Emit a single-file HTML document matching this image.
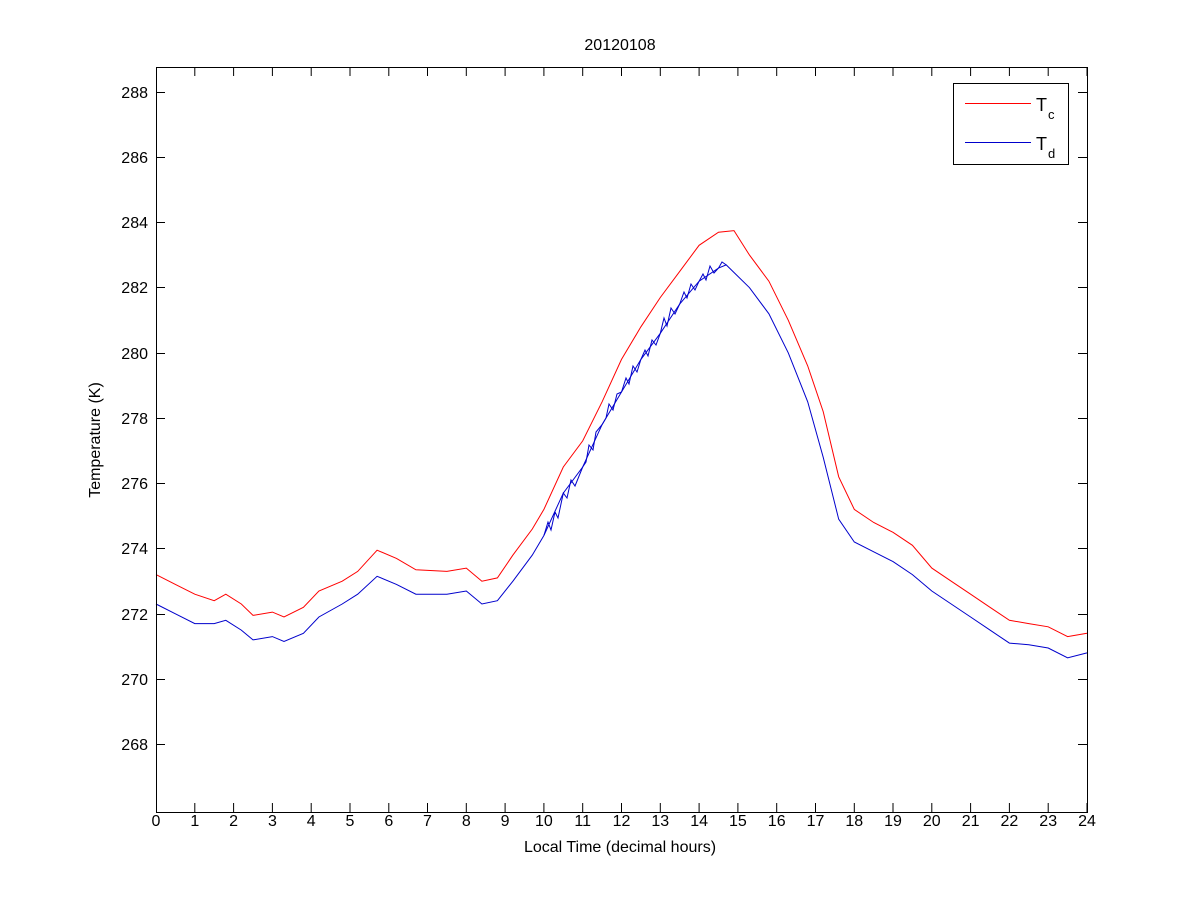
<!DOCTYPE html>
<html><head><meta charset="utf-8"><style>
body{margin:0;background:#fff;}
svg{display:block;font-family:"Liberation Sans",Arial,sans-serif;}
</style></head><body>
<svg width="1201" height="900" xmlns="http://www.w3.org/2000/svg">
<rect width="1201" height="900" fill="#fff"/>
<text x="620" y="50" font-size="16" text-anchor="middle">20120108</text>
<path fill="none" stroke="#000" stroke-width="1" d="
M156.5 812v-9M194.8 812v-9M233.6 812v-9M272.4 812v-9M311.2 812v-9M350 812v-9M388.8 812v-9M427.5 812v-9M466.3 812v-9M505.1 812v-9M543.9 812v-9M582.7 812v-9M621.5 812v-9M660.3 812v-9M699.1 812v-9M737.9 812v-9M776.7 812v-9M815.5 812v-9M854.3 812v-9M893 812v-9M931.8 812v-9M970.6 812v-9M1009.4 812v-9M1048.2 812v-9M1087 812v-9
M156.5 67v9M194.8 67v9M233.6 67v9M272.4 67v9M311.2 67v9M350 67v9M388.8 67v9M427.5 67v9M466.3 67v9M505.1 67v9M543.9 67v9M582.7 67v9M621.5 67v9M660.3 67v9M699.1 67v9M737.9 67v9M776.7 67v9M815.5 67v9M854.3 67v9M893 67v9M931.8 67v9M970.6 67v9M1009.4 67v9M1048.2 67v9M1087 67v9
M156 744.5h9M156 679.5h9M156 614.5h9M156 548.5h9M156 483.5h9M156 418.5h9M156 353.5h9M156 287.5h9M156 222.5h9M156 157.5h9M156 92.5h9
M1087 744.5h-9M1087 679.5h-9M1087 614.5h-9M1087 548.5h-9M1087 483.5h-9M1087 418.5h-9M1087 353.5h-9M1087 287.5h-9M1087 222.5h-9M1087 157.5h-9M1087 92.5h-9"/>
<g font-size="16" text-anchor="middle">
<text x="156" y="826">0</text><text x="194.8" y="826">1</text><text x="233.6" y="826">2</text><text x="272.4" y="826">3</text><text x="311.2" y="826">4</text><text x="350" y="826">5</text><text x="388.8" y="826">6</text><text x="427.5" y="826">7</text><text x="466.3" y="826">8</text><text x="505.1" y="826">9</text><text x="543.9" y="826">10</text><text x="582.7" y="826">11</text><text x="621.5" y="826">12</text><text x="660.3" y="826">13</text><text x="699.1" y="826">14</text><text x="737.9" y="826">15</text><text x="776.7" y="826">16</text><text x="815.5" y="826">17</text><text x="854.3" y="826">18</text><text x="893" y="826">19</text><text x="931.8" y="826">20</text><text x="970.6" y="826">21</text><text x="1009.4" y="826">22</text><text x="1048.2" y="826">23</text><text x="1087" y="826">24</text>
</g>
<g font-size="16" text-anchor="end">
<text x="148" y="750">268</text><text x="148" y="685">270</text><text x="148" y="620">272</text><text x="148" y="554">274</text><text x="148" y="489">276</text><text x="148" y="424">278</text><text x="148" y="359">280</text><text x="148" y="293">282</text><text x="148" y="228">284</text><text x="148" y="163">286</text><text x="148" y="98">288</text>
</g>
<polyline fill="none" stroke="#ff0000" stroke-width="1" points="156,574.6 175.4,584.4 194.8,594.2 214.2,600.7 225.8,594.2 241.3,604 253,615.4 272.4,612.1 284,617 303.4,607.3 318.9,591 342.2,581.2 357.7,571.4 377.1,550.2 396.5,558.4 415.9,569.8 446.9,571.4 466.3,568.1 481.9,581.2 497.4,577.9 512.9,555.1 532.3,529 543.9,509.4 563.3,467 582.7,440.9 602.1,401.8 621.5,359.4 640.9,326.8 660.3,297.5 679.7,271.4 699.1,245.3 718.5,232.2 734,230.6 749.5,255.1 768.9,281.2 788.3,320.3 807.7,365.9 823.2,411.6 838.7,476.8 854.3,509.4 873.7,522.5 893,532.3 912.4,545.3 931.8,568.1 951.2,581.2 970.6,594.2 990,607.3 1009.4,620.3 1028.8,623.6 1048.2,626.8 1067.6,636.6 1087,633.3"/>
<polyline fill="none" stroke="#0000cc" stroke-width="1" points="156,604 175.4,613.8 194.8,623.6 214.2,623.6 225.8,620.3 241.3,630.1 253,639.9 272.4,636.6 284,641.5 303.4,633.3 318.9,617 342.2,604 357.7,594.2 377.1,576.3 396.5,584.4 415.9,594.2 446.9,594.2 466.3,591 481.9,604 497.4,600.7 512.9,581.2 532.3,555.1 543.9,535.5 563.3,493.1 582.7,467 602.1,424.6 621.5,392 640.9,359.4 660.3,333.3 679.7,304 699.1,281.2 718.5,268.1 726.2,264.9 749.5,287.7 768.9,313.8 788.3,352.9 807.7,401.8 823.2,457.2 838.7,519.2 854.3,542 873.7,551.8 893,561.6 912.4,574.6 931.8,591 951.2,604 970.6,617 990,630.1 1009.4,643.1 1028.8,644.8 1048.2,648 1067.6,657.8 1087,652.9"/>
<polyline fill="none" stroke="#0000cc" stroke-width="1" points="543.9,535.5 548,522 551,530 555,512 558,518 563.3,493.1 567,498 571,480 575,486 582.7,467 586,462 589,445 593,450 596,432 602.1,424.6 606,418 609,404 613,410 617,394 621.5,392 626,378 629,384 633,366 637,372 640.9,359.4 645,350 648,356 652,340 656,345 660.3,333.3 664,318 667,326 671,308 675,314 679.7,304 684,292 687,298 691,284 695,290 699.1,281.2 703,274 706,280 710,266 714,273 718.5,268.1 722,262 726.2,264.9"/>
<rect x="156.5" y="67.5" width="931" height="745" fill="none" stroke="#000" stroke-width="1"/>
<rect x="953.5" y="83.5" width="115" height="81" fill="#fff" stroke="#000" stroke-width="1"/>
<line x1="965" y1="103.5" x2="1031" y2="103.5" stroke="#ff0000"/>
<line x1="965" y1="142.5" x2="1031" y2="142.5" stroke="#0000cc"/>
<text x="1036" y="111" font-size="18">T</text><text x="1048" y="119" font-size="13">c</text>
<text x="1036" y="150" font-size="18">T</text><text x="1048" y="158" font-size="13">d</text>
<text x="620" y="852" font-size="16" text-anchor="middle">Local Time (decimal hours)</text>
<text transform="translate(100,440) rotate(-90)" font-size="16" text-anchor="middle">Temperature (K)</text>
</svg>
</body></html>
